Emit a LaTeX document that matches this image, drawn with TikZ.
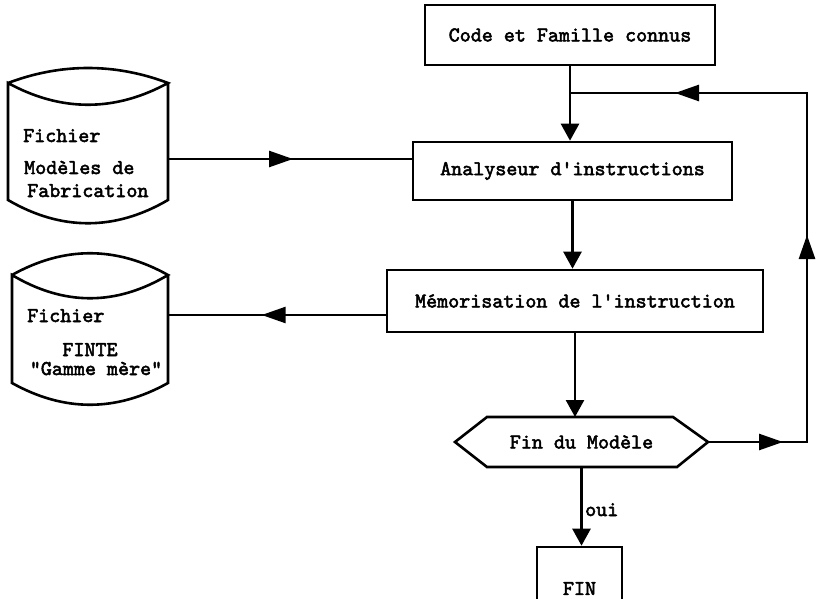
\documentclass[tikz,border=0pt]{standalone}
\usepackage{fontspec}
\newfontfamily\tw{lmmono10-regular.otf}[FakeBold=2.5]
\usetikzlibrary{arrows.meta,calc,decorations.markings}
\tikzset{
  vtip/.tip={Triangle[length=17pt,width=18pt]},
  htip/.tip={Triangle[length=24pt,width=16pt]},
  every node/.style={font=\tw\fontsize{21}{25}\selectfont},
  box/.style={draw, line width=2.6pt, inner sep=0pt},
  ghost/.style={draw=none, inner sep=0pt, outer sep=0pt},
  txt/.style={inner sep=0pt},
  flow/.style={line width=2.6pt, line join=miter},
  midarrow/.style={postaction=decorate, decoration={markings, mark=at position #1 with {\arrow{htip}}}}
}
\begin{document}
\begin{tikzpicture}[x=1pt,y=-1pt]
\clip (0,0) rectangle (822,599);
% process boxes
\node[box, minimum width=290pt, minimum height=60pt] (code) at (570,35) {Code et Famille connus};
\node[box, minimum width=319pt, minimum height=58pt] (ana) at (572.5,171) {Analyseur d'instructions};
\node[box, minimum width=376pt, minimum height=62pt] (mem) at (575,301) {Mémorisation de l'instruction};
\node[ghost, minimum width=253pt, minimum height=50pt] (hex) at (581.5,442) {Fin du Modèle};
\draw[flow] (hex.west) -- ($(hex.north west)+(32,0)$) -- ($(hex.north east)+(-35,0)$) -- (hex.east)
  -- ($(hex.south east)+(-31,0)$) -- ($(hex.south west)+(32,0)$) -- cycle;
\node[box, minimum width=85pt, minimum height=83pt] (fin) at (579.5,588.5) {FIN};
% file 1
\node[ghost, minimum width=160pt, minimum height=117pt] (c1) at (88,141.5) {};
\draw[flow] (c1.north west) .. controls ($(c1.north west)+(53,-20)$) and ($(c1.north east)+(-53,-20)$) .. (c1.north east)
  .. controls ($(c1.north east)+(-53,29)$) and ($(c1.north west)+(53,29)$) .. (c1.north west)
  -- (c1.south west) .. controls ($(c1.south west)+(53,31)$) and ($(c1.south east)+(-53,31)$) .. (c1.south east)
  -- (c1.north east);
\node[txt, anchor=base west] (c1a) at (23,142) {Fichier};
\node[txt, anchor=base west] (c1b) at (24,174) {Modèles de};
\node[txt, anchor=base west] (c1c) at (27,197) {Fabrication};
% file 2
\node[ghost, minimum width=156pt, minimum height=108pt] (c2) at (90,329) {};
\draw[flow] (c2.north west) .. controls ($(c2.north west)+(52,-29)$) and ($(c2.north east)+(-52,-29)$) .. (c2.north east)
  .. controls ($(c2.north east)+(-52,31)$) and ($(c2.north west)+(52,31)$) .. (c2.north west)
  -- (c2.south west) .. controls ($(c2.south west)+(52,29)$) and ($(c2.south east)+(-52,29)$) .. (c2.south east)
  -- (c2.north east);
\node[txt, anchor=base west] (c2a) at (27,322) {Fichier};
\node[txt, anchor=base] (c2b) at (90,356) {FINTE};
\node[txt, anchor=base] (c2c) at (96,375) {"Gamme mère"};
% connectors
\coordinate (j) at (570,93);
\coordinate (rb) at (807,442);
\coordinate (rt) at (807,93);
\draw[flow,-{vtip}] (code.south) -- (code.south |- ana.north);
\draw[flow,-{vtip}] (ana.south) -- (ana.south |- mem.north);
\draw[flow,-{vtip}] (mem.south) -- (mem.south |- hex.north);
\draw[flow,-{vtip}] (hex.south) -- (hex.south |- fin.north);
\node[txt, anchor=base west] (oui) at (585,516) {oui};
\draw[flow, postaction=decorate, decoration={markings,
    mark=at position 75pt with {\arrow{htip}},
    mark=at position 306pt with {\arrow{htip}},
    mark=at position 580pt with {\arrow{htip}}}]
  (hex.east) -- (rb) -- (rt) -- (j);
\coordinate (a1) at ([yshift=12pt]ana.west);
\draw[flow, midarrow=125pt] (c1.east |- a1) -- (a1);
\coordinate (m1) at ([yshift=-14pt]mem.west);
\draw[flow, midarrow=124pt] (m1) -- (c2.east |- m1);
\end{tikzpicture}
\end{document}
